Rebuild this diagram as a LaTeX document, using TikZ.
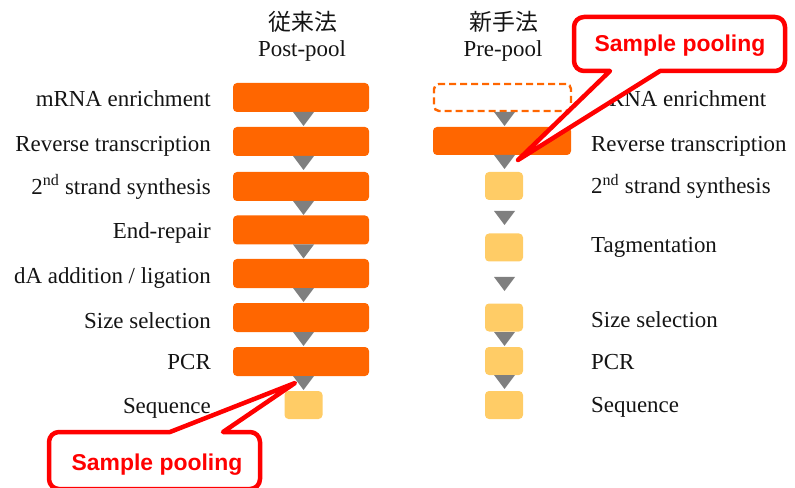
\documentclass[tikz,border=0pt]{standalone}
\usepackage{fontspec}
\setmainfont{Liberation Serif}
\newfontfamily\calloutfont{Liberation Sans}
\newfontfamily\cjkfont{Noto Sans CJK JP}
\definecolor{orangebox}{HTML}{FF6600}
\definecolor{lightbox}{HTML}{FFCC66}
\definecolor{trigray}{HTML}{7F7F7F}
\definecolor{txt}{HTML}{141414}
\definecolor{callred}{HTML}{FF0000}
\newcommand\downtri[2]{\fill[trigray] (#1-10.5,#2) -- (#1+10.5,#2) -- (#1,#2+14) -- cycle;}
\begin{document}
\begin{tikzpicture}[x=1bp,y=-1bp,
  bigbox/.style={fill=orangebox, rounded corners=4bp, inner sep=0pt, minimum width=136bp, minimum height=29bp},
  smallbox/.style={fill=lightbox, rounded corners=4bp, inner sep=0pt, minimum width=38bp, minimum height=28bp},
  dashbox/.style={draw=orangebox, line width=2.4bp, dash pattern=on 7bp off 4bp, rounded corners=5bp, inner sep=0pt, minimum width=137bp, minimum height=27bp},
  lbl/.style={font=\fontsize{23}{25}\selectfont, text=txt, inner sep=0pt},
  llbl/.style={lbl, anchor=base east},
  rlbl/.style={lbl, anchor=base west},
  head/.style={font=\cjkfont\fontsize{23}{25}\selectfont, text=txt, inner sep=0pt},
  callout/.style={draw=callred, fill=white, line width=4.5bp, line join=round},
  calltext/.style={font=\calloutfont\bfseries\fontsize{23}{25}\selectfont, text=callred, inner sep=0pt, anchor=base}
]
\useasboundingbox (0,0) rectangle (795,488);

% headers
\node[head] (h1) at (303,22) {従来法};
\node[lbl, anchor=base] (h1b) at (302,57) {Post-pool};
\node[head] (h2) at (504,22) {新手法};
\node[lbl, anchor=base] (h2b) at (503,57) {Pre-pool};

% left column boxes
\node[bigbox] (L1) at (301,97.5) {};
\node[bigbox] (L2) at (301,141.5) {};
\node[bigbox] (L3) at (301,186.5) {};
\node[bigbox] (L4) at (301,230) {};
\node[bigbox] (L5) at (301,273.5) {};
\node[bigbox] (L6) at (301,317.5) {};
\node[bigbox] (L7) at (301,361.5) {};
\node[smallbox] (L8) at (303.5,405) {};

% left triangles
\downtri{303.5}{112}
\downtri{303.5}{156}
\downtri{303.5}{201}
\downtri{303.5}{244.5}
\downtri{303.5}{288}
\downtri{303.5}{332}
\downtri{303.5}{376}

% left labels
\node[llbl] (tl1) at (211,107) {mRNA enrichment};
\node[llbl] (tl2) at (211,152) {Reverse transcription};
\node[llbl] (tl3) at (211,194.5) {2\textsuperscript{nd} strand synthesis};
\node[llbl] (tl4) at (211,238.5) {End-repair};
\node[llbl] (tl5) at (211,284) {dA addition / ligation};
\node[llbl] (tl6) at (211,328) {Size selection};
\node[llbl] (tl7) at (211,369.5) {PCR};
\node[llbl] (tl8) at (211,413.5) {Sequence};

% right column
\node[dashbox] (R1) at (502.5,97.5) {};
\node[bigbox, minimum width=138bp, minimum height=28bp] (R2) at (502,141) {};
\node[smallbox] (R3) at (504,186) {};
\node[smallbox] (R4) at (504,247.5) {};
\node[smallbox] (R5) at (504,317.5) {};
\node[smallbox] (R6) at (504,361) {};
\node[smallbox] (R7) at (504,405) {};

\downtri{504.5}{112}
\downtri{504.5}{155}
\downtri{504.5}{211}
\downtri{504.5}{277}
\downtri{504.5}{332}
\downtri{504.5}{375}

% right labels
\node[rlbl] (tr1) at (591,107) {mRNA enrichment};
\node[rlbl] (tr2) at (591,152) {Reverse transcription};
\node[rlbl] (tr3) at (591,194) {2\textsuperscript{nd} strand synthesis};
\node[rlbl] (tr4) at (591,253) {Tagmentation};
\node[rlbl] (tr5) at (591,327) {Size selection};
\node[rlbl] (tr6) at (591,369) {PCR};
\node[rlbl] (tr7) at (591,412) {Sequence};

% callouts
\coordinate (tipT) at (518,160);
\coordinate (tipB) at (295,383);
\draw[callout] (610,71) -- (tipT) -- (660,71) [rounded corners=10bp] -- (785,71) -- (785,17) -- (574,17) -- (574,71) [sharp corners] -- cycle;
\node[calltext] (ct) at (680,52) {Sample pooling};

\draw[callout] (223,432) -- (tipB) -- (170,432) [rounded corners=10bp] -- (49,432) -- (49,489) -- (260,489) -- (260,432) [sharp corners] -- cycle;
\node[calltext] (cb) at (157,470) {Sample pooling};
\end{tikzpicture}
\end{document}
